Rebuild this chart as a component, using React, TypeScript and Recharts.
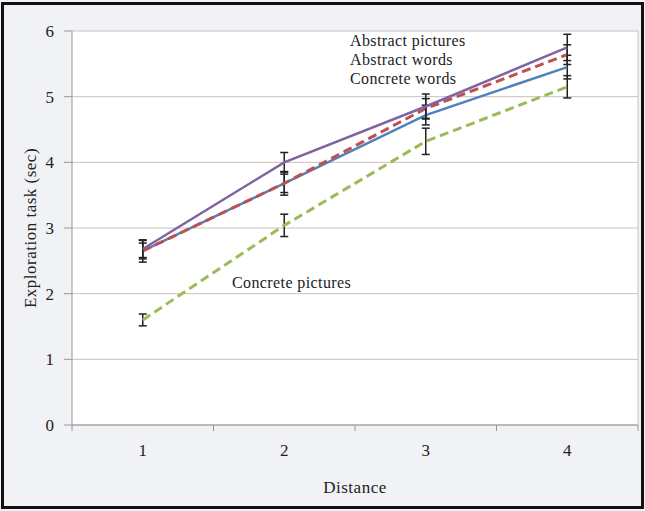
import { CartesianGrid, ErrorBar, Line, LineChart, ReferenceLine, XAxis, YAxis } from "recharts";

const distances = [1, 2, 3, 4];
const abstractPictures = [2.68, 4.0, 4.85, 5.75];
const abstractPicturesErr = [0.13, 0.15, 0.19, 0.2];
const abstractWords = [2.65, 3.68, 4.82, 5.64];
const abstractWordsErr = [0.12, 0.14, 0.15, 0.15];
const concreteWords = [2.65, 3.68, 4.72, 5.45];
const concreteWordsErr = [0.17, 0.18, 0.15, 0.18];
const concretePictures = [1.6, 3.04, 4.32, 5.15];
const concretePicturesErr = [0.09, 0.17, 0.2, 0.17];
const yTicks = [0, 1, 2, 3, 4, 5, 6];

const data = distances.map((d, i) => ({
    d,
    ap: abstractPictures[i],
    apE: abstractPicturesErr[i],
    aw: abstractWords[i],
    awE: abstractWordsErr[i],
    cw: concreteWords[i],
    cwE: concreteWordsErr[i],
    cp: concretePictures[i],
    cpE: concretePicturesErr[i],
}));

const FONT = '"Liberation Serif", "Times New Roman", serif';
const AXIS = "#9c9696";
// plot spans 72..638 -> 4 category bands
const BAND = 566 / 4;

function XTick(props: any) {
    const { x, y, payload } = props;
    return (
        <g>
            <line x1={x + BAND / 2} x2={x + BAND / 2} y1={425} y2={431} stroke={AXIS} />
            {payload.value === 1 && (
                <line x1={x - BAND / 2} x2={x - BAND / 2} y1={425} y2={431} stroke={AXIS} />
            )}
            <text x={x} y={y + 23} textAnchor="middle" fontFamily={FONT} fontSize={17} fill="#222">
                {payload.value}
            </text>
        </g>
    );
}

const labelStyle = {
    position: "absolute" as const,
    fontFamily: FONT,
    fontSize: 16,
    letterSpacing: "0.4px",
    lineHeight: "18px",
    color: "#222",
    whiteSpace: "nowrap" as const,
};

export default function App() {
    return (
        <div style={{ position: "absolute", left: 0, top: 0, width: 645, height: 511, background: "#f0f2f5" }}>
            <LineChart
                width={645}
                height={511}
                data={data}
                margin={{ top: 31, right: 7, bottom: 18, left: 22 }}
            >
                <CartesianGrid vertical={false} stroke="#cbbfbf" fill="#ffffff" />
                <XAxis
                    dataKey="d"
                    type="number"
                    domain={[0.5, 4.5]}
                    ticks={distances}
                    tickLine={false}
                    axisLine={{ stroke: AXIS }}
                    tick={<XTick />}
                    height={68}
                    label={{ value: "Distance", position: "insideBottom", offset: 0, fontFamily: FONT, fontSize: 17, letterSpacing: 0.5, fill: "#222" }}
                />
                <YAxis
                    domain={[0, 6]}
                    ticks={yTicks}
                    width={50}
                    tickSize={8}
                    tickMargin={10}
                    tickLine={{ stroke: AXIS }}
                    axisLine={{ stroke: AXIS }}
                    tick={{ fontFamily: FONT, fontSize: 17, fill: "#222" }}
                    label={{ value: "Exploration task (sec)", angle: -90, position: "insideLeft", offset: 8, style: { textAnchor: "middle" }, fontFamily: FONT, fontSize: 17, letterSpacing: 0.5, fill: "#222" }}
                />
                <ReferenceLine x={4.5} stroke="#cbbfbf" />
                <Line dataKey="cp" stroke="#9bbb59" strokeWidth={3} strokeDasharray="9 5" dot={false} isAnimationActive={false}>
                    <ErrorBar dataKey="cpE" direction="y" width={4} stroke="#222" strokeWidth={1.5} />
                </Line>
                <Line dataKey="cw" stroke="#4f81bd" strokeWidth={2.5} dot={false} isAnimationActive={false}>
                    <ErrorBar dataKey="cwE" direction="y" width={4} stroke="#222" strokeWidth={1.5} />
                </Line>
                <Line dataKey="aw" stroke="#c0504d" strokeWidth={3} strokeDasharray="9 5" dot={false} isAnimationActive={false}>
                    <ErrorBar dataKey="awE" direction="y" width={4} stroke="#222" strokeWidth={1.5} />
                </Line>
                <Line dataKey="ap" stroke="#8064a2" strokeWidth={2.5} dot={false} isAnimationActive={false}>
                    <ErrorBar dataKey="apE" direction="y" width={4} stroke="#222" strokeWidth={1.5} />
                </Line>
            </LineChart>
            <div style={{ ...labelStyle, left: 350, top: 32 }}>Abstract pictures</div>
            <div style={{ ...labelStyle, left: 350, top: 51 }}>Abstract words</div>
            <div style={{ ...labelStyle, left: 350, top: 70 }}>Concrete words</div>
            <div style={{ ...labelStyle, left: 232, top: 274 }}>Concrete pictures</div>
            <div
                style={{
                    position: "absolute",
                    left: 1,
                    top: 2,
                    width: 643,
                    height: 507,
                    border: "3px solid #111",
                    boxSizing: "border-box",
                    pointerEvents: "none",
                }}
            />
        </div>
    );
}
